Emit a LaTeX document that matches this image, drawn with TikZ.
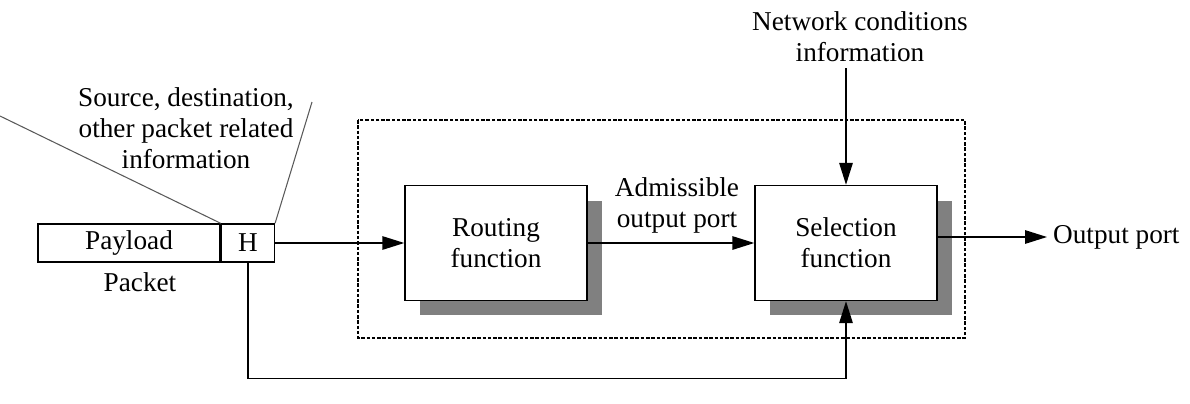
\documentclass[tikz,border=0pt]{standalone}
\usepackage{fontspec}
\setmainfont{Liberation Serif}
\usepackage{tikz}
\usetikzlibrary{positioning}
\usetikzlibrary{shadows}
\usetikzlibrary{arrows.meta}
\tikzstyle{field} = [rectangle, text centered, draw=black, line width=0.8pt, minimum height=0.76cm, inner sep=0pt]
\tikzstyle{func} = [rectangle, align=center, draw=black, fill=white, line width=0.8pt, minimum width=3.64cm, minimum height=2.3cm, general shadow={fill=black!50, draw=none, shadow xshift=0.3cm, shadow yshift=-0.3cm}]
\tikzstyle{arrow} = [line width=0.8pt,-{Triangle[length=0.44cm,width=0.27cm]}]
\tikzstyle{note} = [draw=black!65, line width=0.6pt]

\begin{document}
\begin{tikzpicture}[x=0.02cm, y=-0.02cm, font=\fontsize{15.5}{17.6}\selectfont]
\useasboundingbox (0,0) rectangle (1190,403);

\node (payload) [field, minimum width=3.64cm] at (129,243) {Payload};
\node (hdr) [field, minimum width=1.06cm, right=0pt of payload] {H};
\node (packet) at (140,282) {Packet};
\node (info) [align=center] at (186,128) {Source, destination,\\other packet related\\information};
\coordinate (infoL) at (0,116);
\coordinate (infoR) at (312,102);
\draw [note] (infoL) -- (hdr.north west);
\draw [note] (hdr.north east) -- (infoR);

% switch core
\draw [dash pattern=on 2pt off 1pt, line width=0.6pt] (358,120) rectangle (965,338);
\node (routing) [func] at (496,243) {Routing\\function};
\node (select) [func] at (846,243) {Selection\\function};
\node (adm) [align=center] at (677,205) {Admissible\\output port};
\node (net) [align=center] at (860,37) {Network conditions\\information};
\node (out) [anchor=west] at (1047,237) {Output port};

\draw [arrow] (hdr.east) -- (routing.west);
\draw [arrow] (routing) -- (select);
\draw [arrow] (net.south -| select.north) -- (select.north);
\draw [arrow] (select.east |- out.west) -- (out.west);
\draw [arrow] (hdr.south) -- ++(0,116) -| (select.south);

\end{tikzpicture}
\end{document}
